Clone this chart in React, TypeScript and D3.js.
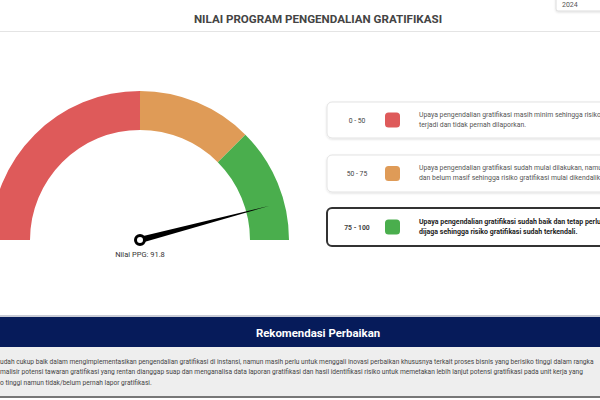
import React from "react";
import * as d3 from "d3";

const TITLE = "NILAI PROGRAM PENGENDALIAN GRATIFIKASI";
const YEAR = "2024";
const rangeStarts = [0, 50, 75];
const rangeEnds = [50, 75, 100];
const rangeColors = ["#de5a5a", "#df9b57", "#4aae4d"];
const rangeLabels = ["0 - 50", "50 - 75", "75 - 100"];
const rangeDesc = [
  ["Upaya pengendalian gratifikasi masih minim sehingga risiko gratifikasi mungkin", "terjadi dan tidak pernah dilaporkan."],
  ["Upaya pengendalian gratifikasi sudah mulai dilakukan, namun masih parsial", "dan belum masif sehingga risiko gratifikasi mulai dikendalikan."],
  ["Upaya pengendalian gratifikasi sudah baik dan tetap perlu dipertahankan dan", "dijaga sehingga risiko gratifikasi sudah terkendali."],
];
const VALUE = 91.8;
const REC_TITLE = "Rekomendasi Perbaikan";
const recLines = [
  "udah cukup baik dalam mengimplementasikan pengendalian gratifikasi di instansi, namun masih perlu untuk menggali inovasi perbaikan khususnya terkait proses bisnis yang berisiko tinggi dalam rangka",
  "malisir potensi tawaran gratifikasi yang rentan dianggap suap dan menganalisa data laporan gratifikasi dan hasil identifikasi risiko untuk memetakan lebih lanjut potensi gratifikasi pada unit kerja yang",
  "o tinggi namun tidak/belum pernah lapor gratifikasi.",
];

export default function App() {
  const W = 600, H = 400;
  const cx = 140, cy = 240, rIn = 110, rOut = 149;
  const ang = d3.scaleLinear().domain([0, 100]).range([-Math.PI / 2, Math.PI / 2]);
  const arc = d3.arc<any>().innerRadius(rIn).outerRadius(rOut);
  const a = ang(VALUE);
  const nl = 134;
  const tip = [nl * Math.sin(a), -nl * Math.cos(a)];
  const perp = [Math.cos(a), Math.sin(a)];
  const bw = 3.2;
  const needle = `M${tip[0]},${tip[1]} L${perp[0] * bw},${perp[1] * bw} L${-perp[0] * bw},${-perp[1] * bw} Z`;
  const font = "Roboto, 'Liberation Sans', Arial, sans-serif";
  const cards = [
    { y: 102, h: 36 },
    { y: 155, h: 37 },
    { y: 208, h: 38 },
  ];
  return (
    <svg width={W} height={H} style={{ position: "fixed", left: 0, top: 0, background: "#fff" }} fontFamily={font}>
      <defs>
        <filter id="sh" x="-10%" y="-30%" width="120%" height="160%">
          <feDropShadow dx="0" dy="1" stdDeviation="1.2" floodColor="#000" floodOpacity="0.12" />
        </filter>
      </defs>
      <rect x={556} y={-6} width={60} height={17} rx={2} fill="#fff" stroke="#dcdcdc" filter="url(#sh)" />
      <text x={562} y={7} fontSize={7} fill="#555">{YEAR}</text>
      <text x={318} y={23} textAnchor="middle" fontSize={11.6} fontWeight="bold" fill="#444">{TITLE}</text>
      <line x1={0} x2={W} y1={31.5} y2={31.5} stroke="#e4e4e4" />

      <g transform={`translate(${cx},${cy})`}>
        {rangeStarts.map((s, i) => (
          <path key={i} d={arc({ startAngle: ang(s), endAngle: ang(rangeEnds[i]) }) as string} fill={rangeColors[i]} />
        ))}
        <path d={needle} fill="#000" />
        <circle r={4.5} fill="#fff" stroke="#000" strokeWidth={3} />
        <text y={16.5} textAnchor="middle" fontSize={7.5} fill="#333">{`Nilai PPG: ${VALUE}`}</text>
      </g>

      {cards.map((c, i) => (
        <g key={i}>
          <rect x={327} y={c.y} width={300} height={c.h} rx={5} fill="#fff"
            stroke={i === 2 ? "#333" : "#e3e3e3"} strokeWidth={i === 2 ? 2 : 1} filter={i === 2 ? undefined : "url(#sh)"} />
          <text x={357} y={c.y + c.h / 2 + 2.5} textAnchor="middle" fontSize={6.8} fill="#444" fontWeight={i === 2 ? "bold" : "normal"}>{rangeLabels[i]}</text>
          <rect x={385} y={c.y + c.h / 2 - 7.5} width={15} height={15} rx={3.5} fill={rangeColors[i]} />
          {rangeDesc[i].map((t, j) => (
            <text key={j} x={419} y={c.y + c.h / 2 - 3.5 + j * 10} fontSize={i === 2 ? 7.0 : 6.85} fill={i === 2 ? "#222" : "#555"} fontWeight={i === 2 ? "bold" : "normal"}>{t}</text>
          ))}
        </g>
      ))}

      <rect x={0} y={315} width={W} height={2} fill="#c9ccd6" />
      <rect x={0} y={317} width={W} height={30} fill="#061b5a" />
      <text x={318} y={336.5} textAnchor="middle" fontSize={11.4} fontWeight="bold" fill="#fff">{REC_TITLE}</text>
      <rect x={0} y={347} width={W} height={49} fill="#eeeeee" />
      {recLines.map((t, j) => (
        <text key={j} x={0} y={363.5 + j * 10.5} fontSize={6.62} fill="#444">{t}</text>
      ))}
      <rect x={0} y={396} width={W} height={2} fill="#777" />
    </svg>
  );
}
